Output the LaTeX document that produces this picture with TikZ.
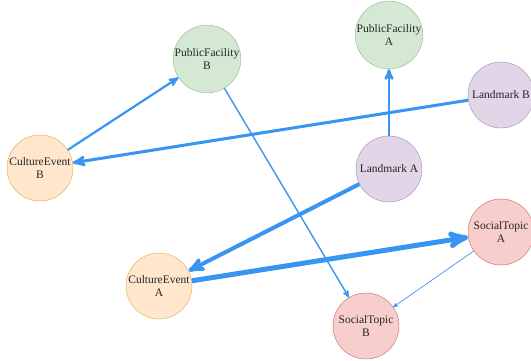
\documentclass[tikz,border=0pt]{standalone}
\usepackage{fontspec}
\setmainfont{Liberation Serif}
\usetikzlibrary{arrows}
\usetikzlibrary{shapes.geometric}

\definecolor{linkblue}{RGB}{56,150,242}
\definecolor{facfill}{RGB}{213,232,212}
\definecolor{facline}{RGB}{140,185,130}
\definecolor{culfill}{RGB}{255,230,204}
\definecolor{culline}{RGB}{222,170,70}
\definecolor{lmfill}{RGB}{225,213,231}
\definecolor{lmline}{RGB}{160,135,175}
\definecolor{socfill}{RGB}{248,206,204}
\definecolor{socline}{RGB}{190,100,100}

\tikzset{
  topic/.style={shape=circle, minimum size=66pt, inner sep=0pt, align=center,
    font=\fontsize{11.5}{13}\selectfont, text=black!85},
  facility/.style={topic, draw=facline, fill=facfill},
  culture/.style={topic, draw=culline, fill=culfill},
  landmark/.style={topic, draw=lmline, fill=lmfill},
  social/.style={topic, draw=socline, fill=socfill},
  link/.style={draw=linkblue, -stealth'}
}

\begin{document}
\begin{tikzpicture}[x=1pt, y=-1pt]

\useasboundingbox (0, 0) rectangle (531, 360);

\node (pfB) [facility] at (207, 59) {PublicFacility\\B};
\node (pfA) [facility] at (389, 35) {PublicFacility\\A};
\node (ceB) [culture] at (40, 168) {CultureEvent\\B};
\node (lmA) [landmark] at (389, 169) {Landmark A};
\node (lmB) [landmark] at (501, 95) {Landmark B};
\node (ceA) [culture] at (159, 286) {CultureEvent\\A};
\node (stA) [social] at (501, 232) {SocialTopic\\A};
\node (stB) [social] at (366, 326) {SocialTopic\\B};

\draw[link, line width=2.2pt] (ceB) -- (pfB);
\draw[link, line width=3pt] (lmB) -- (ceB);
\draw[link, line width=2.5pt] (lmA) -- (pfA);
\draw[link, line width=4pt] (lmA) -- (ceA);
\draw[link, line width=5pt] (ceA) -- (stA);
\draw[link, line width=1.4pt] (pfB) -- (stB);
\draw[link, line width=0.7pt] (stA) -- (stB);

\end{tikzpicture}
\end{document}
